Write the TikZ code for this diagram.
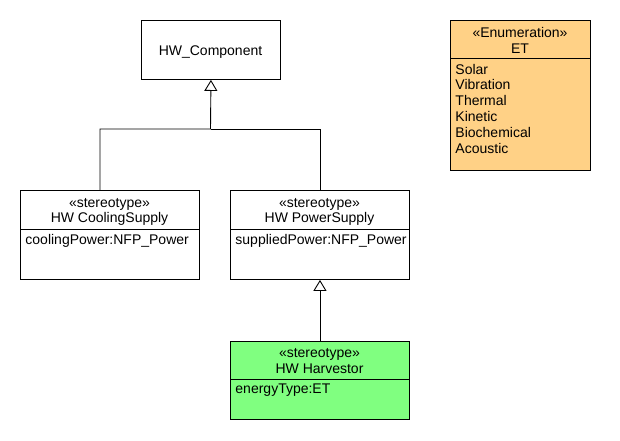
\documentclass[tikz,border=0pt]{standalone}
\usepackage{fontspec}
\setmainfont{Liberation Sans}
\usetikzlibrary{arrows.meta}
\definecolor{enumfill}{RGB}{255,209,134}
\definecolor{harvfill}{RGB}{128,255,128}
\begin{document}
\begin{tikzpicture}[x=1pt, y=-1pt, line width=0.9pt,
    classbox/.style={draw, anchor=north west, minimum width=179pt, minimum height=89pt, inner sep=0pt},
    txt/.style={anchor=base, inner sep=0pt, font=\fontsize{14}{16}\selectfont},
    attr/.style={txt, anchor=base west},
    gen/.style={-{Triangle[open, length=11pt, width=13pt]}}]
    \useasboundingbox (0,0) rectangle (620,440);
    % classes
    \node[classbox, minimum width=139pt, minimum height=59pt] (comp) at (141,20) {};
    \node[classbox] (cool) at (20,190) {};
    \node[classbox] (pow) at (230,190) {};
    \node[classbox, fill=harvfill, minimum height=78pt] (harv) at (230,341) {};
    \node[classbox, fill=enumfill, minimum width=140pt, minimum height=150pt] (et) at (450,20) {};
    % compartment lines
    \draw (cool.west |- 0,229) -- (cool.east |- 0,229);
    \draw (pow.west |- 0,229) -- (pow.east |- 0,229);
    \draw (harv.west |- 0,379) -- (harv.east |- 0,379);
    \draw (et.west |- 0,58.5) -- (et.east |- 0,58.5);
    % texts
    \node[txt] (compname) at (210.5,55.5) {HW\_Component};
    \node[txt] (coolst) at (109.5,207.5) {«stereotype»};
    \node[txt] (coolname) at (109.5,222.5) {HW CoolingSupply};
    \node[attr] (coolattr) at (25,244.5) {coolingPower:NFP\_Power};
    \node[txt] (powst) at (319.5,207.5) {«stereotype»};
    \node[txt] (powname) at (319.5,222.5) {HW PowerSupply};
    \node[attr] (powattr) at (235,244.5) {suppliedPower:NFP\_Power};
    \node[txt] (harvst) at (319.5,357.5) {«stereotype»};
    \node[txt] (harvname) at (319.5,373) {HW Harvestor};
    \node[attr] (harvattr) at (235,393) {energyType:ET};
    \node[txt] (etst) at (520,37.5) {«Enumeration»};
    \node[txt] (etname) at (520,53) {ET};
    \foreach \lit [count=\i] in {Solar,Vibration,Thermal,Kinetic,Biochemical,Acoustic}
        \node[attr] (lit\i) at (455,58.2+15.8*\i) {\lit};
    % generalizations
    \coordinate (split) at (210.5,129);
    \draw[gen] (cool.north -| 100,0) |- (split) -- (comp.south);
    \draw (pow.north) |- (split);
    \draw[gen] (harv.north) -- (pow.south);
\end{tikzpicture}
\end{document}
